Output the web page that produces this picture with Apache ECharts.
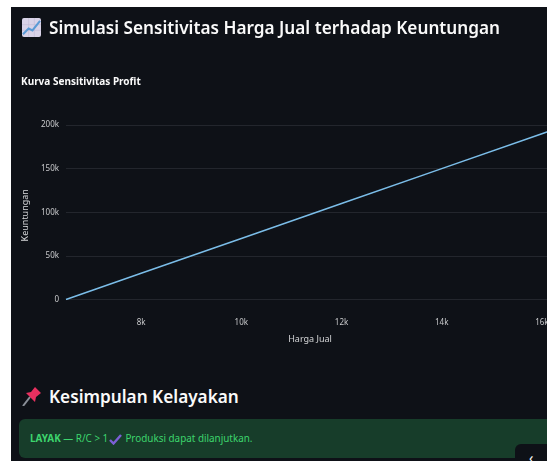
<!DOCTYPE html>
<html><head><meta charset="utf-8">
<script src="https://cdn.jsdelivr.net/npm/echarts@6/dist/echarts.min.js"></script>
<style>
html,body{margin:0;padding:0;background:#fff;width:547px;height:461px;overflow:hidden}
#page{position:absolute;left:11px;top:7px;width:536px;height:454px;background:#0e1117;overflow:hidden}
#chart{position:absolute;left:-11px;top:-7px;width:620px;height:360px}
.h{position:absolute;color:#fafafa;font-family:"Noto Sans",sans-serif;font-weight:600;font-size:17.2px;line-height:26px;white-space:nowrap}
#alert{position:absolute;left:8px;top:412px;width:560px;height:39px;border-radius:6px;background:#173d2a;color:#3dd56d;font-family:"Noto Sans",sans-serif;font-size:9.9px;line-height:39px;white-space:nowrap;padding-left:11px;box-sizing:border-box}
#btn{position:absolute;left:504px;top:437px;width:40px;height:30px;border-radius:6px;background:#0e1117;color:#fafafa;font:14px "Noto Sans",sans-serif}
svg{position:absolute}
</style></head><body>
<div id="page">
<div id="chart"></div>
<svg style="left:11px;top:11px" width="19" height="19" viewBox="0 0 20 20"><rect x="0" y="0" width="20" height="20" rx="2" fill="#d9d3e8"/><path d="M0 7H20M0 13H20M7 0V20M13 0V20" stroke="#c4bcd8" stroke-width=".7"/><path d="M1 17 L7 11 L11 13 L19 3" stroke="#5b9bd5" stroke-width="2.2" fill="none"/></svg>
<div class="h" style="left:38px;top:8px">Simulasi Sensitivitas Harga Jual terhadap Keuntungan</div>
<svg style="left:11px;top:379px" width="20" height="20" viewBox="0 0 20 20"><path d="M1 20 L8 11" stroke="#8a8f98" stroke-width="2"/><path d="M4 7 L13 16 L14 11 L19 7 L13 1 L9 6 Z" fill="#e8305f"/></svg>
<div class="h" style="left:38px;top:377px">Kesimpulan Kelayakan</div>
<div id="alert"><b>LAYAK</b> — R/C &gt; 1 <span style="display:inline-block;width:12px"></span> Produksi dapat dilanjutkan.</div>
<svg style="left:98px;top:426px" width="13" height="12" viewBox="0 0 13 12"><path d="M1 7 L4.5 10.5 L12 2" stroke="#7c5fd6" stroke-width="2.4" fill="none"/></svg>
<div id="btn"><span style="position:absolute;left:14px;top:4px">‹</span></div>
</div>
<script>
const prices = [6500, 8000, 10000, 12000, 14000, 16000, 17000];
const profits = [0, 30000, 70000, 110000, 150000, 190000, 210000];
const xTicks = [8000, 10000, 12000, 14000, 16000];
const chartTitle = 'Kurva Sensitivitas Profit';
const xName = 'Harga Jual';
const yName = 'Keuntungan';
const fmt = v => v === 0 ? '0' : (v / 1000) + 'k';
const chart = echarts.init(document.getElementById('chart'), null, {renderer: 'canvas'});
chart.setOption({
  backgroundColor: 'transparent',
  animation: false,
  textStyle: {fontFamily: '"Noto Sans", sans-serif'},
  title: {text: chartTitle, left: 16, top: 72, textStyle: {color: '#fafafa', fontSize: 10, fontWeight: 'bold', fontFamily: '"Noto Sans", sans-serif'}},
  grid: {left: 66, top: 125, width: 526, height: 174.5, containLabel: false},
  xAxis: {
    type: 'value', min: 6500, max: 17000, name: xName, nameLocation: 'middle', nameGap: 35,
    nameTextStyle: {color: '#d5d6d8', fontSize: 9, padding: [0, 38, 0, 0]},
    axisLine: {show: false}, axisTick: {show: false}, splitLine: {show: false},
    axisLabel: {customValues: xTicks, formatter: fmt, color: '#c9cacc', fontSize: 8, margin: 19}
  },
  yAxis: {
    type: 'value', min: 0, max: 200000, interval: 50000, name: yName, nameLocation: 'middle', nameGap: 35,
    nameTextStyle: {color: '#d5d6d8', fontSize: 9, padding: [0, 6, 0, 0]},
    axisLine: {show: false}, axisTick: {show: false},
    splitLine: {lineStyle: {color: '#23262d', width: 1}},
    axisLabel: {formatter: fmt, color: '#c9cacc', fontSize: 8, margin: 7, padding: [3, 0, 0, 0]}
  },
  series: [{type: 'line', data: prices.map((p, i) => [p, profits[i]]), showSymbol: false, lineStyle: {color: '#7bbde8', width: 1.5}, itemStyle: {color: '#7bbde8'}}]
});
</script>
</body></html>
